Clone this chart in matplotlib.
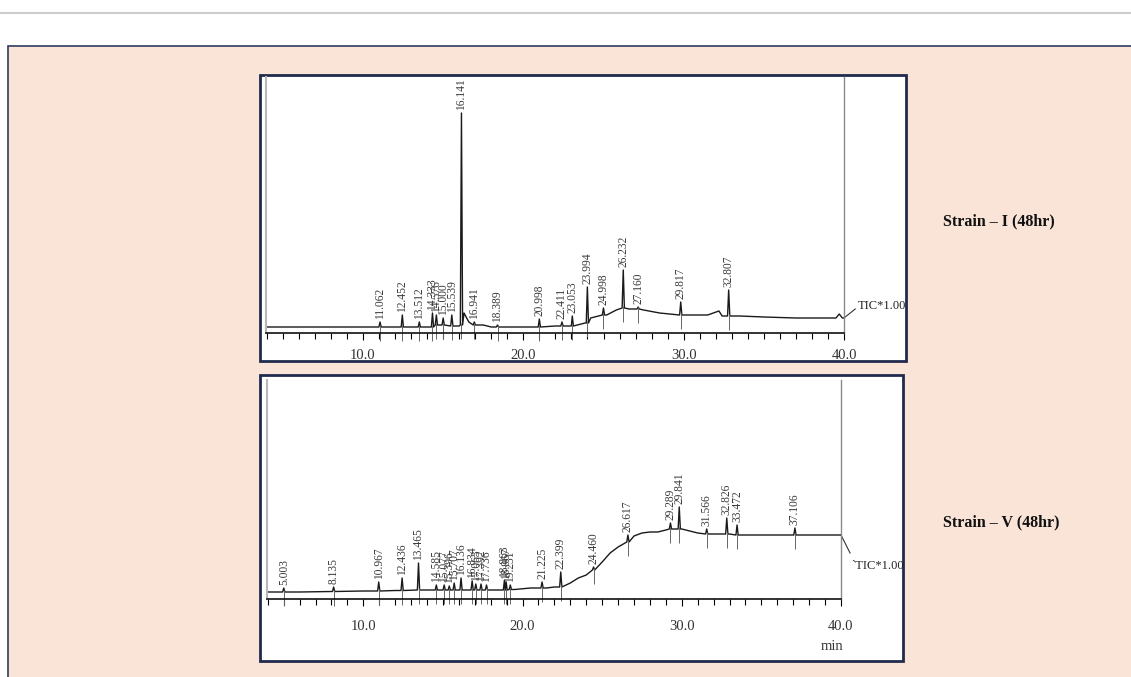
import numpy as np
import matplotlib
matplotlib.use('Agg')
import matplotlib.pyplot as plt
from matplotlib.patches import Rectangle

plt.rcParams['font.family'] = ['Liberation Serif', 'DejaVu Serif']

# --- Strain I (48hr): baseline anchors and labelled peaks (time in min, height in px above axis)
top_base_t = [3.95, 6, 8, 10, 12, 14, 16, 16.3, 16.6, 17.5, 18, 20, 22, 23, 23.85, 24.2, 25.2, 25.8,
              26.6, 27.5, 28.5, 30.5, 31.5, 32.2, 32.4, 33.5, 35, 37, 39.5, 39.7, 39.9, 40.0]
top_base_y = [6, 6, 6, 6, 6, 6, 7, 20, 11, 8, 6, 6, 7, 8, 10, 15, 18, 23,
              24, 23, 20, 18, 18, 22, 17, 17, 16, 15, 15, 19, 15, 15]
top_rt = [11.062, 12.452, 13.512, 14.333, 14.576, 15.000, 15.539, 16.141, 16.941, 18.389,
          20.998, 22.411, 23.053, 23.994, 24.998, 26.232, 27.160, 29.817, 32.807]
top_apex = [11, 18, 11, 20, 18, 15, 18, 220, 11, 8, 14, 11, 17, 46, 25, 63, 26, 31, 43]
top_foot = [6, 6, 6, 6, 8, 8, 7, 8, 8, 6, 6, 7, 7, 10, 18, 25, 24, 18, 17]

# --- Strain V (48hr)
bot_base_t = [3.95, 6, 8, 10, 12, 14, 16, 18, 19.5, 20.5, 21.5, 22.0, 23.0, 23.5, 24.0, 25.0,
              25.5, 26.0, 27.0, 27.5, 28.0, 28.5, 29.0, 29.6, 30.0, 30.5, 31.0, 32.0, 33.0,
              34.0, 35.0, 37.0, 39.0, 40.0]
bot_base_y = [7, 7, 7.5, 8, 8.5, 9, 9, 9, 9.5, 11, 11, 12, 16, 21, 24, 37,
              46, 52, 63, 66, 67, 67, 69, 70, 70, 68, 66, 65, 65,
              64, 64, 64, 64, 64]
bot_rt = [5.003, 8.135, 10.967, 12.436, 13.465, 14.585, 15.077, 15.396, 15.707, 16.136,
          16.834, 17.063, 17.392, 17.736, 18.863, 18.967, 19.231, 21.225, 22.399, 24.460,
          26.617, 29.289, 29.841, 31.566, 32.826, 33.472, 37.106]
bot_apex = [11, 12, 17, 21, 36, 14, 14, 13, 16, 21, 18, 15, 15, 14, 19, 17, 14, 17, 27, 32,
            64, 76, 92, 70, 81, 74, 71]
bot_foot = [7, 7.5, 8, 8.5, 9, 9, 9, 9, 9, 9, 9, 9, 9, 9, 9, 9, 9.5, 11, 12, 29,
            57, 70, 70, 65, 65, 64, 64]

ticks = [10, 20, 30, 40]
tick_labels = ['10.0', '20.0', '30.0', '40.0']
strain_labels = ['Strain \u2013 I (48hr)', 'Strain \u2013 V (48hr)']

W, H = 1131, 677
NAVY = '#1f2a4d'


def build_trace(base_t, base_y, rt, apex, foot, w=0.07):
    pts = list(zip(base_t, base_y))
    for r, a, f in zip(rt, apex, foot):
        pts += [(r - w, f), (r, a), (r + w, f)]
    pts.sort()
    t, y = zip(*pts)
    return t, y


def draw_panel(ax, base_t, base_y, rt, apex, foot, ymax, pad):
    t, y = build_trace(base_t, base_y, rt, apex, foot)
    ax.plot(t, y, color='#1a1a1a', lw=1.0)
    # short peak markers under each peak
    ax.vlines(rt, np.array(foot) - 14, np.array(foot) + 2, colors='#666666', lw=0.7, clip_on=False)
    for r, a in zip(rt, apex):
        ax.text(r, a + 3, '%.3f' % r, rotation=90, ha='center', va='bottom',
                fontsize=8.3, color='#3a3a3a')
    ax.set_xlim(3.95, 40.0)
    ax.set_ylim(0, ymax)
    ax.set_yticks([])
    ax.set_xticks(ticks)
    ax.set_xticklabels(tick_labels)
    ax.set_xticks(np.arange(4, 41, 1), minor=True)
    ax.tick_params(axis='x', which='major', direction='out', length=5, width=0.8,
                   labelsize=10.5, pad=pad, labelcolor='#333333')
    ax.tick_params(axis='x', which='minor', direction='out', length=4, width=0.8)
    ax.spines['top'].set_visible(False)
    ax.spines['left'].set_color('#b8b8b8')
    ax.spines['left'].set_linewidth(1.5)
    ax.spines['right'].set_color('#8a8a8a')
    ax.spines['right'].set_linewidth(1.0)
    ax.spines['bottom'].set_color('#111111')
    ax.spines['bottom'].set_linewidth(1.2)


fig = plt.figure(figsize=(W / 100, H / 100), dpi=100)

# background: page line, peach box, white panels
bg = fig.add_axes([0, 0, 1, 1])
bg.set_xlim(0, W)
bg.set_ylim(H, 0)
bg.axis('off')
bg.plot([0, W], [13, 13], color='#cccccc', lw=1.5)
bg.add_patch(Rectangle((8, 46), W + 20, H, fc='#fae4d7', ec='#2e3b5e', lw=1.2))
bg.add_patch(Rectangle((260, 75), 646, 286, fc='white', ec=NAVY, lw=2))
bg.add_patch(Rectangle((260, 375), 643, 286, fc='white', ec=NAVY, lw=2))
bg.text(943, 221, strain_labels[0], fontsize=11.5, fontweight='bold', va='center', color='#111111')
bg.text(943, 522, strain_labels[1], fontsize=11.5, fontweight='bold', va='center', color='#111111')
bg.text(832, 647, 'min', fontsize=10.5, ha='center', va='center', color='#333333')

# top chromatogram
ax1 = fig.add_axes([266 / W, (H - 333) / H, (844 - 266) / W, (333 - 77) / H], facecolor='none')
draw_panel(ax1, top_base_t, top_base_y, top_rt, top_apex, top_foot, 256, 6.5)
ax1.plot([40.0, 40.7], [15, 24], color='#333333', lw=0.8, clip_on=False)
ax1.text(40.85, 27, 'TIC*1.00', fontsize=9, va='center', color='#222222', clip_on=False)

# bottom chromatogram
ax2 = fig.add_axes([267 / W, (H - 599) / H, (841 - 267) / W, (599 - 380) / H], facecolor='none')
draw_panel(ax2, bot_base_t, bot_base_y, bot_rt, bot_apex, bot_foot, 219, 10)
ax2.plot([40.0, 40.57], [64, 46], color='#333333', lw=0.8, clip_on=False)
ax2.text(40.65, 33, '`TIC*1.00', fontsize=9, va='center', color='#222222', clip_on=False)

fig.savefig('out.png', dpi=100)
